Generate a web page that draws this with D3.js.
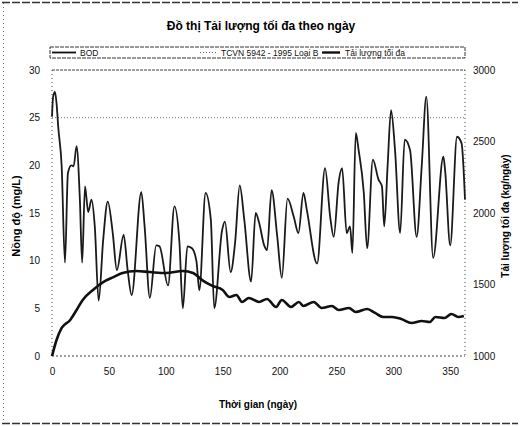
<!DOCTYPE html>
<html>
<head>
<meta charset="utf-8">
<script src="https://cdn.jsdelivr.net/npm/d3@7"></script>
<style>
  body { margin: 0; background: #fff; }
  svg { font-family: "Liberation Sans", Arial, sans-serif; }
</style>
</head>
<body>
<script>
// BOD (mg/L), day / value
var bodDays = [0, 1, 2.6, 4, 5.5, 8.5, 11.4, 14, 17, 19, 21.6, 24.5, 26.5, 29, 31.8, 34.7, 37.6, 41, 45, 49,
  53.4, 57, 63, 66.5, 70, 78.5, 81.4, 86, 91.6, 94.5, 102, 107.6, 112, 115, 119, 123, 127, 129.5, 135, 139.6,
  142.6, 149.5, 152, 157, 161, 165, 169, 175, 179, 182, 186.5, 189, 193, 198, 202, 207, 212.5, 216.6, 221, 224,
  233, 240, 244.5, 247.6, 252, 255, 259, 262, 264, 267, 269.5, 274, 277, 282, 287, 290, 292, 295, 298, 301.5,
  306, 310, 314.7, 320.5, 325, 329, 335, 344, 345.5, 350, 356, 360, 363];
var bodValues = [25.1, 27.2, 27.7, 26.5, 24, 19.9, 9.8, 19.2, 20, 19.9, 22, 16.4, 9.8, 17.8, 15.1, 16.4, 13.6, 5.8, 12.2, 16.2,
  12.9, 9.0, 12.7, 9, 6.4, 17.2, 13.6, 6.1, 11.6, 11.5, 7.4, 15.7, 11.9, 5.0, 11.5, 11.3, 9.9, 6.9, 17.1, 14.3,
  5.0, 13.2, 14.1, 8.8, 12, 17.9, 14.3, 7.8, 15, 14, 11.6, 11.1, 17.4, 12.5, 8.2, 16.5, 14.6, 12.9, 17.1, 15.3,
  9.7, 19.7, 14.6, 12.5, 18.3, 19.7, 12.9, 13.6, 10.8, 23.4, 21.6, 17.2, 11.3, 20.6, 18.5, 17.8, 13.6, 20, 25.8, 21.6,
  12.9, 22.7, 21.6, 12.5, 20, 27.2, 10.3, 20.9, 19.5, 11.6, 23, 22.3, 16.4];

// Tai luong toi da (kg/ngay), right axis
var loadDays = [0, 4, 8.5, 16, 21.6, 27, 36, 45, 54, 62, 74, 86, 100, 115, 124, 132, 141, 150, 156, 162, 167, 173,
  182, 189, 197, 202, 210, 217, 221, 230, 237, 246, 252, 261, 267, 277, 284, 291, 299, 307, 316, 325, 332, 337,
  345, 351, 357, 362];
var loadValues = [1000, 1112, 1196, 1252, 1322, 1392, 1462, 1517, 1552, 1580, 1594, 1587, 1580, 1594, 1580, 1531, 1490, 1462, 1413, 1427, 1378, 1406,
  1378, 1399, 1343, 1392, 1343, 1378, 1350, 1378, 1336, 1350, 1322, 1336, 1308, 1329, 1301, 1273, 1273, 1259, 1231, 1245, 1238, 1273,
  1266, 1294, 1273, 1280];

var tcvnLimit = 25; // TCVN 5942-1995 cot B

var xTicks = [0, 50, 100, 150, 200, 250, 300, 350];
var yLeftTicks = [0, 5, 10, 15, 20, 25, 30];
var yRightTicks = [1000, 1500, 2000, 2500, 3000];

drawChart();

function drawChart(){
  var width = 520, height = 426;
  var plotLeft = 52, plotRight = 465, plotTop = 70, plotBottom = 356;

  var svg = d3.select("body").append("svg")
    .attr("width", width)
    .attr("height", height);

  // scanned page border
  svg.append("line").attr("x1", 2).attr("x2", 518).attr("y1", 2.5).attr("y2", 2.5)
    .attr("stroke", "#333").attr("stroke-width", 1.5).attr("stroke-dasharray", "8,2");
  svg.append("line").attr("x1", 2).attr("x2", 518).attr("y1", 423.5).attr("y2", 423.5)
    .attr("stroke", "#333").attr("stroke-width", 1.5).attr("stroke-dasharray", "8,2");
  svg.append("line").attr("x1", 3.5).attr("x2", 3.5).attr("y1", 3).attr("y2", 423)
    .attr("stroke", "#666").attr("stroke-dasharray", "1,3");

  var x = d3.scaleLinear().domain([0, 363]).range([plotLeft, plotRight]);
  var yL = d3.scaleLinear().domain([0, 30]).range([plotBottom, plotTop]);
  var yR = d3.scaleLinear().domain([1000, 3000]).range([plotBottom, plotTop]);

  // title
  svg.append("text")
    .attr("x", 261).attr("y", 30)
    .attr("text-anchor", "middle")
    .attr("font-size", 12).attr("font-weight", "bold")
    .text("Đồ thị Tải lượng tối đa theo ngày");

  // plot frame (dotted, like the scan)
  var frame = svg.append("g").attr("fill", "none").attr("stroke", "#444").attr("stroke-width", 1);
  frame.append("line").attr("x1", plotLeft).attr("x2", plotRight).attr("y1", plotTop).attr("y2", plotTop).attr("stroke-dasharray", "3,1");
  frame.append("line").attr("x1", plotLeft).attr("x2", plotRight).attr("y1", plotBottom).attr("y2", plotBottom).attr("stroke-dasharray", "2,2");
  frame.append("line").attr("x1", plotLeft).attr("x2", plotLeft).attr("y1", plotTop).attr("y2", plotBottom).attr("stroke-dasharray", "1,3");
  frame.append("line").attr("x1", plotRight).attr("x2", plotRight).attr("y1", plotTop).attr("y2", plotBottom).attr("stroke-dasharray", "1,3");

  // axes
  var xAxis = svg.append("g")
    .attr("transform", "translate(0," + plotBottom + ")")
    .call(d3.axisBottom(x).tickValues(xTicks).tickSize(0).tickPadding(12));
  var yAxisL = svg.append("g")
    .attr("transform", "translate(" + plotLeft + ",0)")
    .call(d3.axisLeft(yL).tickValues(yLeftTicks).tickSize(0).tickPadding(12));
  var yAxisR = svg.append("g")
    .attr("transform", "translate(" + plotRight + ",0)")
    .call(d3.axisRight(yR).tickValues(yRightTicks).tickFormat(d3.format("d")).tickSize(0).tickPadding(8));
  [xAxis, yAxisL, yAxisR].forEach(function(g){
    g.select(".domain").remove();
    g.selectAll("text").attr("font-size", 10).attr("fill", "#111")
      .attr("font-family", "'Liberation Sans', Arial, sans-serif");
  });

  // axis titles
  svg.append("text")
    .attr("transform", "translate(20,216) rotate(-90)")
    .attr("text-anchor", "middle")
    .attr("font-size", 11).attr("font-weight", "bold")
    .text("Nồng độ (mg/L)");
  svg.append("text")
    .attr("transform", "translate(509,216) rotate(-90)")
    .attr("text-anchor", "middle")
    .attr("font-size", 10).attr("font-weight", "bold")
    .text("Tải lượng tối đa (kg/ngày)");
  svg.append("text")
    .attr("x", 258).attr("y", 408)
    .attr("text-anchor", "middle")
    .attr("font-size", 10).attr("font-weight", "bold")
    .text("Thời gian (ngày)");

  // TCVN limit line
  svg.append("line")
    .attr("x1", x(0)).attr("x2", plotRight)
    .attr("y1", yL(tcvnLimit)).attr("y2", yL(tcvnLimit))
    .attr("stroke", "#777").attr("stroke-width", 1).attr("stroke-dasharray", "1,2");

  // BOD line
  var bodLine = d3.line()
    .x(function(d, i){ return x(bodDays[i]); })
    .y(function(d){ return yL(d); })
    .curve(d3.curveMonotoneX);
  svg.append("path")
    .datum(bodValues)
    .attr("fill", "none")
    .attr("stroke", "#1a1a1a")
    .attr("stroke-width", 1.8)
    .attr("stroke-linejoin", "round")
    .attr("d", bodLine);

  // load line
  var loadLine = d3.line()
    .x(function(d, i){ return x(loadDays[i]); })
    .y(function(d){ return yR(d); })
    .curve(d3.curveMonotoneX);
  svg.append("path")
    .datum(loadValues)
    .attr("fill", "none")
    .attr("stroke", "#111")
    .attr("stroke-width", 2.6)
    .attr("d", loadLine);

  // legend
  var legend = svg.append("g");
  legend.append("rect")
    .attr("x", 50).attr("y", 47).attr("width", 415).attr("height", 11)
    .attr("fill", "#fff").attr("stroke", "#333").attr("stroke-dasharray", "4,1");
  var legendItems = [
    { label: "BOD", x0: 52, x1: 76, tx: 80, dash: null, w: 1.8, c: "#111" },
    { label: "TCVN 5942 - 1995 Loại B", x0: 200, x1: 216, tx: 221, dash: "1,2", w: 1, c: "#666" },
    { label: "Tải lượng tối đa", x0: 322, x1: 340, tx: 345, dash: null, w: 2.4, c: "#111" }
  ];
  legendItems.forEach(function(it){
    legend.append("line")
      .attr("x1", it.x0).attr("x2", it.x1).attr("y1", 52.5).attr("y2", 52.5)
      .attr("stroke", it.c).attr("stroke-width", it.w)
      .attr("stroke-dasharray", it.dash);
    legend.append("text")
      .attr("x", it.tx).attr("y", 56)
      .attr("font-size", 8.5).attr("fill", "#111")
      .text(it.label);
  });
}
</script>
</body>
</html>
